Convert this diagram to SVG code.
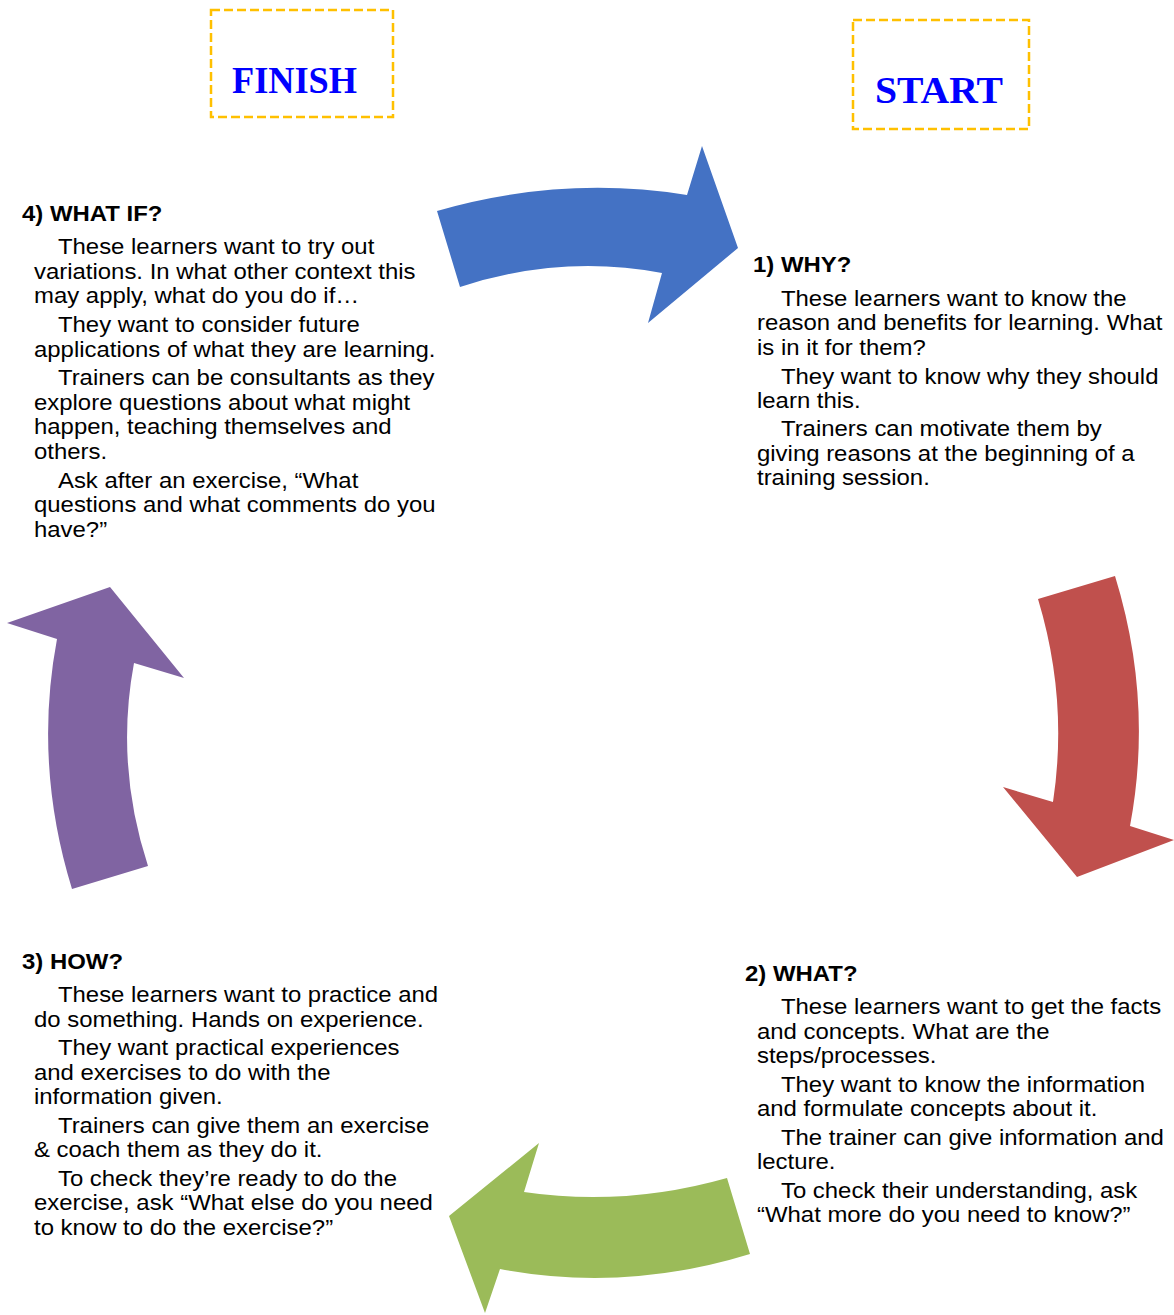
<svg xmlns="http://www.w3.org/2000/svg" width="1174" height="1315" viewBox="0 0 1174 1315">
<style>
.box{fill:none;stroke:#FFC000;stroke-width:2.5;stroke-dasharray:9 4}
.title{font-family:"Liberation Serif",serif;font-weight:bold;font-size:38px;fill:#0000FF}
.h{font-family:"Liberation Sans",Arial,sans-serif;font-weight:bold;font-size:22px;fill:#000}
.b{font-family:"Liberation Sans",Arial,sans-serif;font-size:22px;fill:#000}
</style>
<rect width="1174" height="1315" fill="#fff"/>
<g id="connectors">
<path d="M437,211 Q562,175 687,195 L702,146 L738,248 L648,323 L662,273 Q561,254 460,287 Z" fill="#4472C4"/>
<path d="M1115,576 L1038,599 Q1068.5,700 1053,802 L1003,787 L1077,877 L1174,840 L1130,826 Q1153.5,701 1115,576 Z" fill="#C0504D"/>
<path d="M727,1178 L750,1254 Q625,1292.5 500,1269 L485,1313 L449,1216 L539,1143 L524,1192 Q625,1207 727,1178 Z" fill="#9BBB59"/>
<path d="M72,889 L148,866 Q115,765 134,663 L184,678 L110,587 L7,623 L57,639 Q33.5,764 72,889 Z" fill="#8064A2"/>
</g>
<g id="finish">
<rect class="box" x="211" y="10" width="182" height="107"/>
<text class="title" x="294.5" y="93" text-anchor="middle" textLength="125" lengthAdjust="spacingAndGlyphs">FINISH</text>
</g>
<g id="start">
<rect class="box" x="853" y="20" width="176" height="109"/>
<text class="title" x="939" y="103" text-anchor="middle" textLength="128" lengthAdjust="spacingAndGlyphs">START</text>
</g>
<g id="why" transform="translate(757 1.5) scale(1.088 1)">
<text class="h" x="-3.7" y="271">1) WHY?</text>
<text class="b" x="22" y="304.5">These learners want to know the</text>
<text class="b" x="0" y="329">reason and benefits for learning. What</text>
<text class="b" x="0" y="353.5">is in it for them?</text>
<text class="b" x="22" y="382.5">They want to know why they should</text>
<text class="b" x="0" y="407">learn this.</text>
<text class="b" x="22" y="435">Trainers can motivate them by</text>
<text class="b" x="0" y="459.5">giving reasons at the beginning of a</text>
<text class="b" x="0" y="484">training session.</text>
</g>
<g id="what" transform="translate(757 1.5) scale(1.088 1)">
<text class="h" x="-11" y="979.5">2) WHAT?</text>
<text class="b" x="22" y="1013">These learners want to get the facts</text>
<text class="b" x="0" y="1037.5">and concepts. What are the</text>
<text class="b" x="0" y="1062">steps/processes.</text>
<text class="b" x="22" y="1090.5">They want to know the information</text>
<text class="b" x="0" y="1115">and formulate concepts about it.</text>
<text class="b" x="22" y="1143.5">The trainer can give information and</text>
<text class="b" x="0" y="1168">lecture.</text>
<text class="b" x="22" y="1196.5">To check their understanding, ask</text>
<text class="b" x="0" y="1221">“What more do you need to know?”</text>
</g>
<g id="how" transform="translate(34 1.5) scale(1.088 1)">
<text class="h" x="-11" y="967.5">3) HOW?</text>
<text class="b" x="22" y="1001">These learners want to practice and</text>
<text class="b" x="0" y="1026">do something. Hands on experience.</text>
<text class="b" x="22" y="1054">They want practical experiences</text>
<text class="b" x="0" y="1078.5">and exercises to do with the</text>
<text class="b" x="0" y="1103">information given.</text>
<text class="b" x="22" y="1131.5">Trainers can give them an exercise</text>
<text class="b" x="0" y="1156">&amp; coach them as they do it.</text>
<text class="b" x="22" y="1184.5">To check they’re ready to do the</text>
<text class="b" x="0" y="1209">exercise, ask “What else do you need</text>
<text class="b" x="0" y="1233.5">to know to do the exercise?”</text>
</g>
<g id="whatif" transform="translate(34 1.5) scale(1.088 1)">
<text class="h" x="-11" y="219.5">4) WHAT IF?</text>
<text class="b" x="22" y="253">These learners want to try out</text>
<text class="b" x="0" y="277.5">variations. In what other context this</text>
<text class="b" x="0" y="302">may apply, what do you do if…</text>
<text class="b" x="22" y="331">They want to consider future</text>
<text class="b" x="0" y="355.5">applications of what they are learning.</text>
<text class="b" x="22" y="384">Trainers can be consultants as they</text>
<text class="b" x="0" y="408.5">explore questions about what might</text>
<text class="b" x="0" y="433">happen, teaching themselves and</text>
<text class="b" x="0" y="457.5">others.</text>
<text class="b" x="22" y="486.5">Ask after an exercise, “What</text>
<text class="b" x="0" y="511">questions and what comments do you</text>
<text class="b" x="0" y="535.5">have?”</text>
</g>
</svg>
